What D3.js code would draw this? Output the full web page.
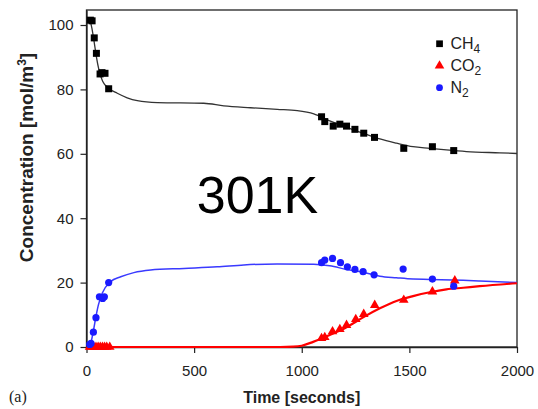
<!DOCTYPE html>
<html>
<head>
<meta charset="utf-8">
<script src="https://cdn.jsdelivr.net/npm/d3@7/dist/d3.min.js"></script>
<style>
  html, body { margin: 0; padding: 0; background: #fff; }
  svg { display: block; }
  text { font-family: "Liberation Sans", Arial, Helvetica, sans-serif; }
</style>
</head>
<body>
<svg id="chart" width="538" height="409"></svg>
<script>
// Measured concentrations [time s, concentration mol/m3]
const ch4Points = [
  [18, 101.5], [26, 101.3], [36, 96], [46, 91.2], [63, 84.8], [72, 85.2], [86, 85], [103, 80.2],
  [1092, 71.5], [1107, 70], [1146, 68.6], [1177, 69.2], [1208, 68.6], [1247, 67.6],
  [1288, 66.4], [1338, 65.1], [1474, 61.7], [1607, 62.2], [1706, 61.0]
];
const co2Points = [
  [14, 0], [24, 0], [34, 0], [44, 0], [54, 0], [64, 0], [74, 0], [84, 0], [94, 0], [108, 0],
  [1092, 2.7], [1107, 3], [1143, 4.8], [1177, 5.5], [1208, 6.8], [1251, 8.6],
  [1288, 10.2], [1339, 13], [1474, 14.6], [1607, 17.2], [1711, 20.6]
];
const n2Points = [
  [15, 0.8], [21, 1.1], [32, 4.6], [44, 9.1], [60, 15.6], [75, 15.1], [83, 15.6], [103, 20],
  [1092, 26.2], [1107, 27], [1143, 27.5], [1180, 26.2], [1212, 24.9], [1247, 24.1],
  [1285, 23.4], [1336, 22.4], [1471, 24.2], [1607, 21.1], [1706, 18.9]
];

// Model curves
const ch4Curve = [
  [15, 102], [25, 99], [35, 95], [45, 90.5], [58, 86], [75, 82.5], [104, 80.3], [143, 78.8],
  [189, 77.4], [236, 76.5], [329, 75.9], [545, 75.7], [638, 74.9], [762, 74.3], [886, 73.8],
  [979, 73.4], [1056, 72.4], [1130, 70.2], [1208, 68.2], [1285, 66.4], [1363, 64.6],
  [1440, 63.3], [1517, 62.2], [1595, 61.7], [1672, 61.2], [1765, 60.7], [1920, 60.3], [2000, 60.1]
];
const co2Curve = [
  [5, 0], [500, 0], [900, 0], [960, 0.1], [1000, 0.4], [1053, 1.6], [1130, 3.7], [1208, 6.1],
  [1285, 9.2], [1363, 12], [1440, 14.3], [1517, 15.8], [1595, 17], [1672, 17.9], [1750, 18.4],
  [1827, 18.9], [2000, 19.8]
];
const n2Curve = [
  [13, 0.3], [21, 1.5], [32, 5], [44, 9.5], [55, 13], [73, 16.7], [112, 20.3], [159, 21.8],
  [220, 23.1], [298, 23.9], [453, 24.4], [607, 24.9], [731, 25.5], [886, 25.8], [1056, 25.7],
  [1130, 25.2], [1208, 24.1], [1285, 23.2], [1363, 22], [1440, 21.5], [1517, 21.1],
  [1595, 21], [1750, 20.7], [1827, 20.5], [2000, 20]
];

const xTicks = [0, 500, 1000, 1500, 2000];
const yTicks = [0, 20, 40, 60, 80, 100];
const legendItems = [
  { name: "CH", sub: "4", shape: "square", color: "#000" },
  { name: "CO", sub: "2", shape: "triangle", color: "#ff0000" },
  { name: "N", sub: "2", shape: "circle", color: "#1a1aff" }
];

const svg = d3.select("#chart");
const plot = { left: 86.5, right: 517, top: 10, bottom: 347 };

const x = d3.scaleLinear().domain([0, 2000]).range([plot.left, plot.right]);
const y = d3.scaleLinear().domain([0, 104.66]).range([plot.bottom, plot.top]);

// frame
svg.append("rect")
  .attr("x", plot.left).attr("y", plot.top)
  .attr("width", plot.right - plot.left).attr("height", plot.bottom - plot.top)
  .attr("fill", "none").attr("stroke", "#222").attr("stroke-width", 1.3);

// axes
const xAxis = svg.append("g")
  .attr("transform", `translate(0,${plot.bottom})`)
  .call(d3.axisBottom(x).tickValues(xTicks).tickFormat(d3.format("d"))
    .tickSize(6).tickPadding(12).tickSizeOuter(0));
const yAxis = svg.append("g")
  .attr("transform", `translate(${plot.left},0)`)
  .call(d3.axisLeft(y).tickValues(yTicks).tickFormat(d3.format("d"))
    .tickSize(6).tickPadding(7).tickSizeOuter(0));
[xAxis, yAxis].forEach(a => {
  a.select(".domain").attr("stroke", "#222").attr("stroke-width", 1.3);
  a.selectAll(".tick line").attr("stroke", "#222").attr("stroke-width", 1.2);
  a.selectAll(".tick text")
    .attr("fill", "#222")
    .style("font-size", "15px")
    .style("font-family", '"Liberation Sans", Arial, sans-serif');
});

// curves
const line = d3.line().x(d => x(d[0])).y(d => y(d[1])).curve(d3.curveMonotoneX);
svg.append("path").datum(ch4Curve).attr("d", line)
  .attr("fill", "none").attr("stroke", "#333").attr("stroke-width", 1.3);
svg.append("path").datum(n2Curve).attr("d", line)
  .attr("fill", "none").attr("stroke", "#3a3aff").attr("stroke-width", 1.5);
svg.append("path").datum(co2Curve).attr("d", line)
  .attr("fill", "none").attr("stroke", "#ff0000").attr("stroke-width", 2.2);

// markers
const tri = d3.symbol().type(d3.symbolTriangle).size(40);
svg.append("g").selectAll("path").data(co2Points).join("path")
  .attr("d", tri)
  .attr("transform", d => `translate(${x(d[0])},${y(d[1])})`)
  .attr("fill", "#ff0000");
svg.append("g").selectAll("rect").data(ch4Points).join("rect")
  .attr("x", d => x(d[0]) - 3.5).attr("y", d => y(d[1]) - 3.5)
  .attr("width", 7).attr("height", 7)
  .attr("fill", "#000");
svg.append("g").selectAll("circle").data(n2Points).join("circle")
  .attr("cx", d => x(d[0])).attr("cy", d => y(d[1]))
  .attr("r", 3.6)
  .attr("fill", "#1a1aff");

// legend
const legend = svg.append("g");
legendItems.forEach((item, i) => {
  const cy = 43.7 + i * 22;
  const g = legend.append("g");
  if (item.shape === "square") {
    g.append("rect").attr("x", 436.2).attr("y", cy - 3.3).attr("width", 6.7).attr("height", 6.7).attr("fill", item.color);
  } else if (item.shape === "triangle") {
    g.append("path").attr("d", tri).attr("transform", `translate(439.5,${cy})`).attr("fill", item.color);
  } else {
    g.append("circle").attr("cx", 439.5).attr("cy", cy).attr("r", 3.4).attr("fill", item.color);
  }
  const t = g.append("text").attr("x", 450.5).attr("y", cy + 5.5)
    .attr("fill", "#222").style("font-size", "16px");
  t.append("tspan").text(item.name);
  t.append("tspan").attr("dy", 4).style("font-size", "12px").text(item.sub);
});

// annotation
svg.append("text")
  .attr("x", 257.5).attr("y", 213.3)
  .attr("text-anchor", "middle")
  .attr("fill", "#000")
  .style("font-size", "52px")
  .text("301K");

// axis titles
svg.append("text")
  .attr("x", (plot.left + plot.right) / 2).attr("y", 403)
  .attr("text-anchor", "middle")
  .attr("fill", "#222")
  .style("font-size", "16px").style("font-weight", "bold")
  .text("Time [seconds]");

const yTitle = svg.append("text")
  .attr("transform", "translate(33,157.5) rotate(-90)")
  .attr("text-anchor", "middle")
  .attr("fill", "#222")
  .style("font-size", "19px").style("font-weight", "bold");
yTitle.append("tspan").text("Concentration [mol/m");
yTitle.append("tspan").attr("dy", -7).style("font-size", "12px").text("3");
yTitle.append("tspan").attr("dy", 7).text("]");

svg.append("text")
  .attr("x", 9).attr("y", 402)
  .attr("fill", "#222")
  .style("font-family", '"Liberation Serif", "Times New Roman", serif')
  .style("font-size", "16px")
  .text("(a)");
</script>
</body>
</html>
